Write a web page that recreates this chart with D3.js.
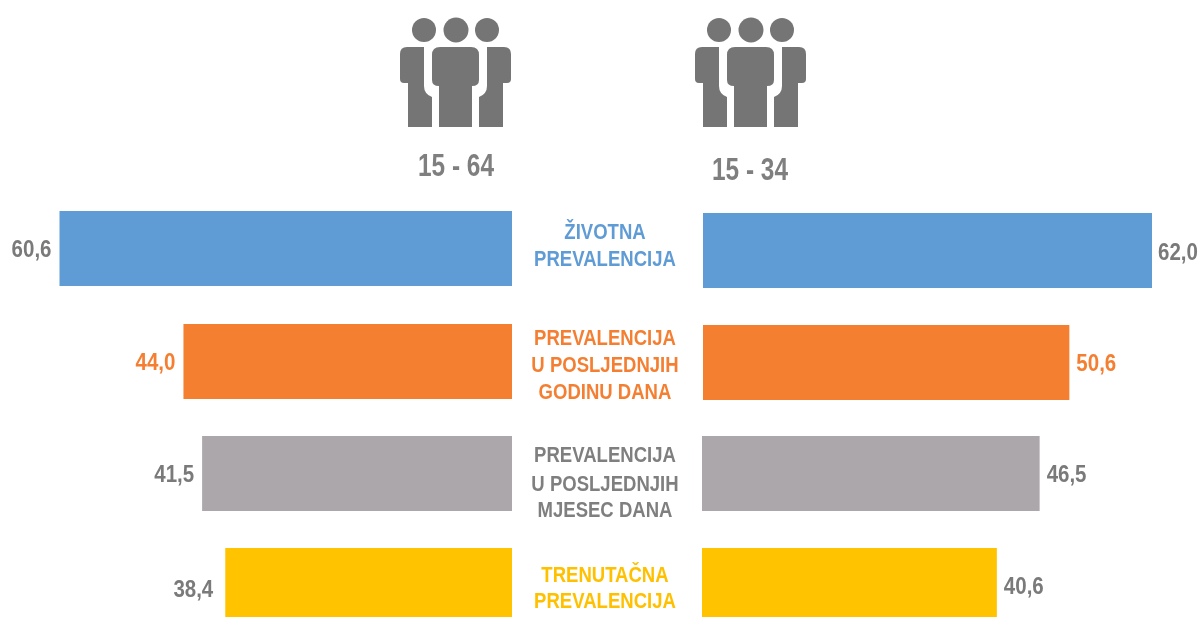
<!DOCTYPE html>
<html><head><meta charset="utf-8">
<script src="https://cdnjs.cloudflare.com/ajax/libs/d3/7.8.5/d3.min.js"></script>
<style>html,body{margin:0;padding:0;background:#fff;overflow:hidden}svg{display:block}text{font-family:"Liberation Sans",Arial,sans-serif;font-weight:700;filter:url(#softText)}</style>
</head><body><svg id="c" width="1201" height="617"><defs><filter id="soft" x="-5%" y="-5%" width="110%" height="110%"><feGaussianBlur stdDeviation="0.6"/></filter><filter id="softText" x="-5%" y="-10%" width="110%" height="120%"><feGaussianBlur stdDeviation="0.3"/></filter></defs></svg>
<script>
const categories=["ŽIVOTNA|PREVALENCIJA","PREVALENCIJA|U POSLJEDNJIH|GODINU DANA","PREVALENCIJA|U POSLJEDNJIH|MJESEC DANA","TRENUTAČNA|PREVALENCIJA"];
const groups=["15 - 64","15 - 34"];
const values6415=[60.6,44.0,41.5,38.4];
const values3415=[62.0,50.6,46.5,40.6];
const barColors=["#5f9bd5","#f47f31","#aba7aa","#ffc300"];
const labelColors=["#5f9bd5","#f47f31","#7f7f7f","#ffc000"];
const valueColors=["#7a7a7a","#f47f31","#7a7a7a","#7a7a7a"];
const svg=d3.select("#c");
const fmt=v=>v.toFixed(1).replace(".",",");
const xL=d3.scaleLinear().domain([0,60.6]).range([512,59.5]);
const xR=d3.scaleLinear().domain([0,62]).range([702.5,1152]);
const rowsL=d3.scaleOrdinal().domain(d3.range(4)).range([[211,286],[324,399],[436,511],[548,617]]);
const rowsR=d3.scaleOrdinal().domain(d3.range(4)).range([[213,288],[325,400],[436,511],[548,617]]);
const x0R=[703,703,702,702];
const baseL=[257,370,482,597], baseR=[260,371,482,594], gapL=[8,8,8,12], gapR=[6,7,7,7];
svg.append("g").selectAll("rect").data(values6415).join("rect")
 .attr("x",d=>xL(d)).attr("width",d=>xL(0)-xL(d))
 .attr("y",(d,i)=>rowsL(i)[0]).attr("height",(d,i)=>rowsL(i)[1]-rowsL(i)[0]).attr("fill",(d,i)=>barColors[i]);
svg.append("g").selectAll("rect").data(values3415).join("rect")
 .attr("x",(d,i)=>x0R[i]).attr("width",(d,i)=>xR(d)-x0R[i])
 .attr("y",(d,i)=>rowsR(i)[0]).attr("height",(d,i)=>rowsR(i)[1]-rowsR(i)[0]).attr("fill",(d,i)=>barColors[i]);
const sy=1.17;
svg.append("g").selectAll("text").data(values6415).join("text")
 .attr("transform",(d,i)=>`translate(${xL(d)-gapL[i]},${baseL[i]}) scale(1,${sy})`).attr("text-anchor","end")
 .attr("font-size",20.5).attr("fill",(d,i)=>valueColors[i]).text(fmt);
svg.append("g").selectAll("text").data(values3415).join("text")
 .attr("transform",(d,i)=>`translate(${xR(d)+gapR[i]},${baseR[i]}) scale(1,${sy})`)
 .attr("font-size",20.5).attr("fill",(d,i)=>valueColors[i]).text(fmt);
const lineYs=[[239,266],[345,372,399],[462,491,517],[582,608]];
const sx=0.843, cx=605;
categories.forEach((c,i)=>{
  svg.append("g").selectAll("text").data(c.split("|")).join("text")
   .attr("x",cx).attr("y",(d,j)=>lineYs[i][j]).attr("text-anchor","middle")
   .attr("font-size",22).attr("fill",labelColors[i]).attr("transform",`translate(${cx*(1-sx)},0) scale(${sx},1)`).text(d=>d);
});
const body="M432 55Q432 47 440 47H471Q479 47 479 55V80Q479 86 472 86V127H439V86Q432 86 432 80Z";
const left="M407 47H424V86Q424 94 432 97V127H408V83H404Q400 83 400 79V54Q400 47 407 47Z";
const right="M504 47H487V86Q487 94 479 97V127H503V83H507Q511 83 511 79V54Q511 47 504 47Z";
const heads=[[424,30,12],[456,30,12.5],[487,30,12]];
[0,295].forEach(dx=>{
  const g=svg.append("g").attr("transform",`translate(${dx},0)`).attr("fill","#757575").attr("filter","url(#soft)");
  [body,left,right].forEach(p=>g.append("path").attr("d",p));
  g.selectAll("circle").data(heads).join("circle").attr("cx",d=>d[0]).attr("cy",d=>d[1]).attr("r",d=>d[2]);
});
svg.selectAll("text.h").data(groups).join("text").attr("class","h")
 .attr("x",(d,i)=>[456,750][i]).attr("y",(d,i)=>[176,180][i]).attr("text-anchor","middle")
 .attr("font-size",32).attr("textLength",76).attr("lengthAdjust","spacingAndGlyphs").attr("fill","#7f7f7f").text(d=>d);
</script></body></html>
